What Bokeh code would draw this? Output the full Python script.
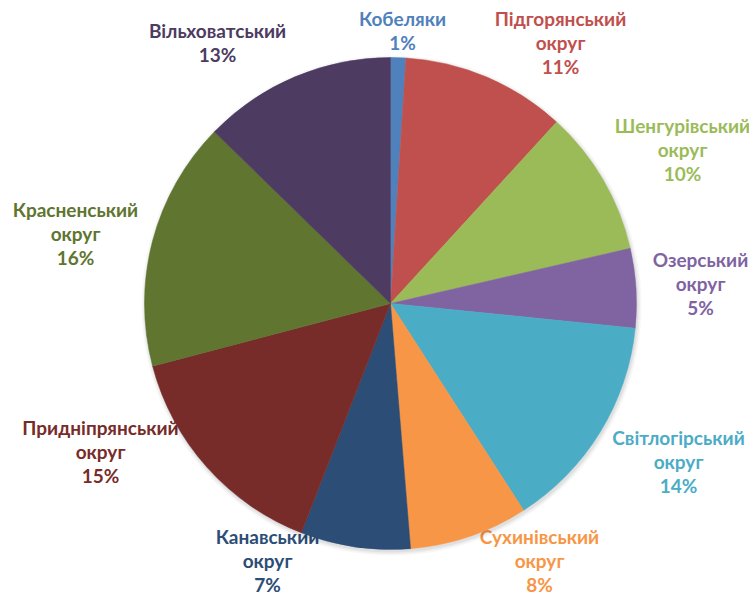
import math
from bokeh.plotting import figure
from bokeh.models import ColumnDataSource
from bokeh.core.properties import value
from bokeh.embed import file_html
from bokeh.resources import INLINE

# ---- data ----
districts = ["Кобеляки", "Підгорянський округ", "Шенгурівський округ", "Озерський округ",
             "Світлогірський округ", "Сухинівський округ", "Канавський округ",
             "Придніпрянський округ", "Красненський округ", "Вільховатський"]
shares = [1.0, 10.8, 9.6, 5.2, 14.3, 7.8, 7.2, 15.0, 16.4, 12.7]
colors = ["#4F81BD", "#C0504D", "#9BBB59", "#8064A2", "#4BACC6",
          "#F79646", "#2C4D75", "#772C2A", "#5F7530", "#4D3B62"]

# ---- layout (screen pixels) ----
W, H = 749, 596
cx_s, cy_s, R = 390, 303, 246
label_pos = [(402, 30), (560, 42), (682, 149), (700, 283), (678, 461),
             (539, 560), (267, 560), (100, 451), (75, 233), (217, 42)]
LINE = 24.0

def to_data(xs, ys):
    return xs, H - ys

cx, cy = to_data(cx_s, cy_s)

total = sum(shares)
starts, ends = [], []
cum = 0.0
for v in shares:
    a0 = math.pi / 2 - 2 * math.pi * cum / total
    cum += v
    a1 = math.pi / 2 - 2 * math.pi * cum / total
    starts.append(a1)
    ends.append(a0)

src = ColumnDataSource(dict(start=starts, end=ends, color=colors, name=districts))

p = figure(width=W, height=H, x_range=(0, W), y_range=(0, H),
           output_backend="svg", toolbar_location=None, min_border=0)
p.axis.visible = False
p.grid.visible = False
p.outline_line_color = None

# labels (drawn beneath the pie), one glyph per line
lx, ly, lt, lc = [], [], [], []
for name, v, col, (xs, ys) in zip(districts, shares, colors, label_pos):
    lines = name.split(" ") + [f"{round(v / total * 100)}%"]
    n = len(lines)
    for k, line in enumerate(lines):
        y_line = ys + (k - (n - 1) / 2) * LINE
        x, y = to_data(xs, y_line)
        lx.append(x)
        ly.append(y)
        lt.append(line)
        lc.append(col)
p.text(x=lx, y=ly, text=lt, text_color=lc, text_align="center", text_baseline="middle",
       text_font=value("Lato"), text_font_style="bold", text_font_size="19px")

# soft shadow
for i, a in enumerate([0.05, 0.04, 0.03]):
    p.circle(x=[cx + 1], y=[cy - 2], radius=R + 1 + i * 1.5, fill_color="#000000",
             fill_alpha=a, line_color=None)

p.wedge(x=cx, y=cy, radius=R, start_angle="start", end_angle="end",
        fill_color="color", line_color="color", line_width=0.5, source=src)

open("out.html", "w").write(file_html(p, INLINE))
